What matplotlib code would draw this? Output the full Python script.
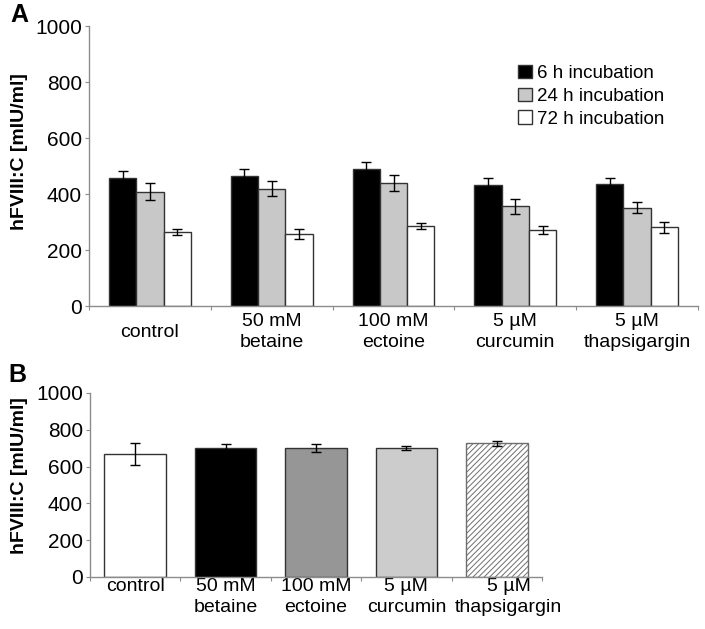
import matplotlib
matplotlib.use('Agg')
import matplotlib.pyplot as plt
import matplotlib.transforms as mtransforms
import numpy as np

plt.rcParams['font.family'] = ['Liberation Sans', 'DejaVu Sans']
plt.rcParams['hatch.linewidth'] = 0.7

# Panel A data
cats_a = ['control', '50 mM\nbetaine', '100 mM\nectoine', '5 µM\ncurcumin', '5 µM\nthapsigargin']
h6 = [458, 463, 489, 431, 437]
h6_err = [25, 25, 25, 25, 19]
h24 = [408, 419, 440, 356, 351]
h24_err = [30, 27, 28, 26, 20]
h72 = [265, 256, 287, 271, 281]
h72_err = [10, 18, 11, 15, 20]
series_labels = ['6 h incubation', '24 h incubation', '72 h incubation']

# Panel B data
cats_b = ['control', '50 mM\nbetaine', '100 mM\nectoine', '5 µM\ncurcumin', '5 µM\nthapsigargin']
vals_b = [667, 701, 701, 701, 726]
err_b = [59, 24, 21, 12, 14]

W, H = 705, 629
fig = plt.figure(figsize=(W / 100, H / 100), dpi=100)

spine_col = '#8c8c8c'
edge_col = '#333333'
fs = 14


def style_axes(ax, n):
    ax.set_xlim(0, n)
    ax.set_ylim(0, 1000)
    ax.set_yticks(range(0, 1001, 200))
    for s in ['top', 'right']:
        ax.spines[s].set_visible(False)
    for s in ['left', 'bottom']:
        ax.spines[s].set_color(spine_col)
        ax.spines[s].set_linewidth(1)
    ax.set_xticks(np.arange(0, n + 1), minor=False)
    ax.set_xticklabels([])
    ax.tick_params(axis='x', which='major', length=3, color=spine_col, direction='out')
    ax.tick_params(axis='y', length=3, color=spine_col, labelsize=15, pad=2)
    ax.tick_params(axis='x', which='minor', length=0, labelsize=fs)
    ax.set_ylabel('hFVIII:C [mIU/ml]', fontsize=fs, fontweight='bold')


# ---- Panel A
axA = fig.add_axes([89 / W, 1 - 306 / H, (698 - 89) / W, (306 - 26) / H])
n = len(cats_a)
x = np.arange(n) + 0.5
bw = 0.224
ekw = dict(ecolor='black', elinewidth=1, capsize=3.5, capthick=1)
axA.bar(x - bw, h6, bw, yerr=h6_err, color='black', edgecolor=edge_col,
        linewidth=1, error_kw=ekw, label=series_labels[0], zorder=2)
axA.bar(x, h24, bw, yerr=h24_err, color='#c8c8c8', edgecolor=edge_col,
        linewidth=1, error_kw=ekw, label=series_labels[1], zorder=2)
axA.bar(x + bw, h72, bw, yerr=h72_err, color='white', edgecolor=edge_col,
        linewidth=1, error_kw=ekw, label=series_labels[2], zorder=2)
style_axes(axA, n)
axA.set_xticks(x, minor=True)
axA.set_xticklabels(cats_a, minor=True, linespacing=1.3)
for lbl in axA.get_xticklabels(minor=True):
    lbl.set_va('center')
axA.tick_params(axis='x', which='minor', pad=19)
axA.yaxis.set_label_coords((28 - 89) / 609, 0.55)
leg = axA.legend(loc='upper left', bbox_to_anchor=(0.705, 0.861), frameon=False,
                 fontsize=13.5, handlelength=0.72, handleheight=0.72,
                 handletextpad=0.25, labelspacing=0.29, borderpad=0, borderaxespad=0)

# ---- Panel B
axB = fig.add_axes([90 / W, 1 - 577 / H, (542 - 90) / W, (577 - 393) / H])
nb = len(cats_b)
xb = np.arange(nb) + 0.5
fills = ['white', 'black', '#969696', '#cccccc', 'white']
hatches = [None, None, None, None, '//////']
edges = [edge_col, edge_col, edge_col, edge_col, '#6e6e6e']
for i in range(nb):
    axB.bar(xb[i], vals_b[i], 0.68, yerr=err_b[i], color=fills[i],
            edgecolor=edges[i], hatch=hatches[i], linewidth=1,
            error_kw=ekw, zorder=2)
style_axes(axB, nb)
axB.set_xticks(xb, minor=True)
axB.set_xticklabels(cats_b, minor=True, linespacing=1.3)
axB.tick_params(axis='x', which='minor', pad=1)
# last label sits a little to the right in the original
last = axB.get_xticklabels(minor=True)[-1]
last.set_transform(last.get_transform() +
                   mtransforms.ScaledTranslation(12 / 100, 0, fig.dpi_scale_trans))
axB.yaxis.set_label_coords((28 - 90) / 452, 0.55)

fig.text(10 / W, 1 - 3 / H, 'A', fontsize=18, fontweight='bold', va='top', ha='left')
fig.text(8 / W, 1 - 363 / H, 'B', fontsize=18, fontweight='bold', va='top', ha='left')

fig.savefig('out.png', dpi=100)
